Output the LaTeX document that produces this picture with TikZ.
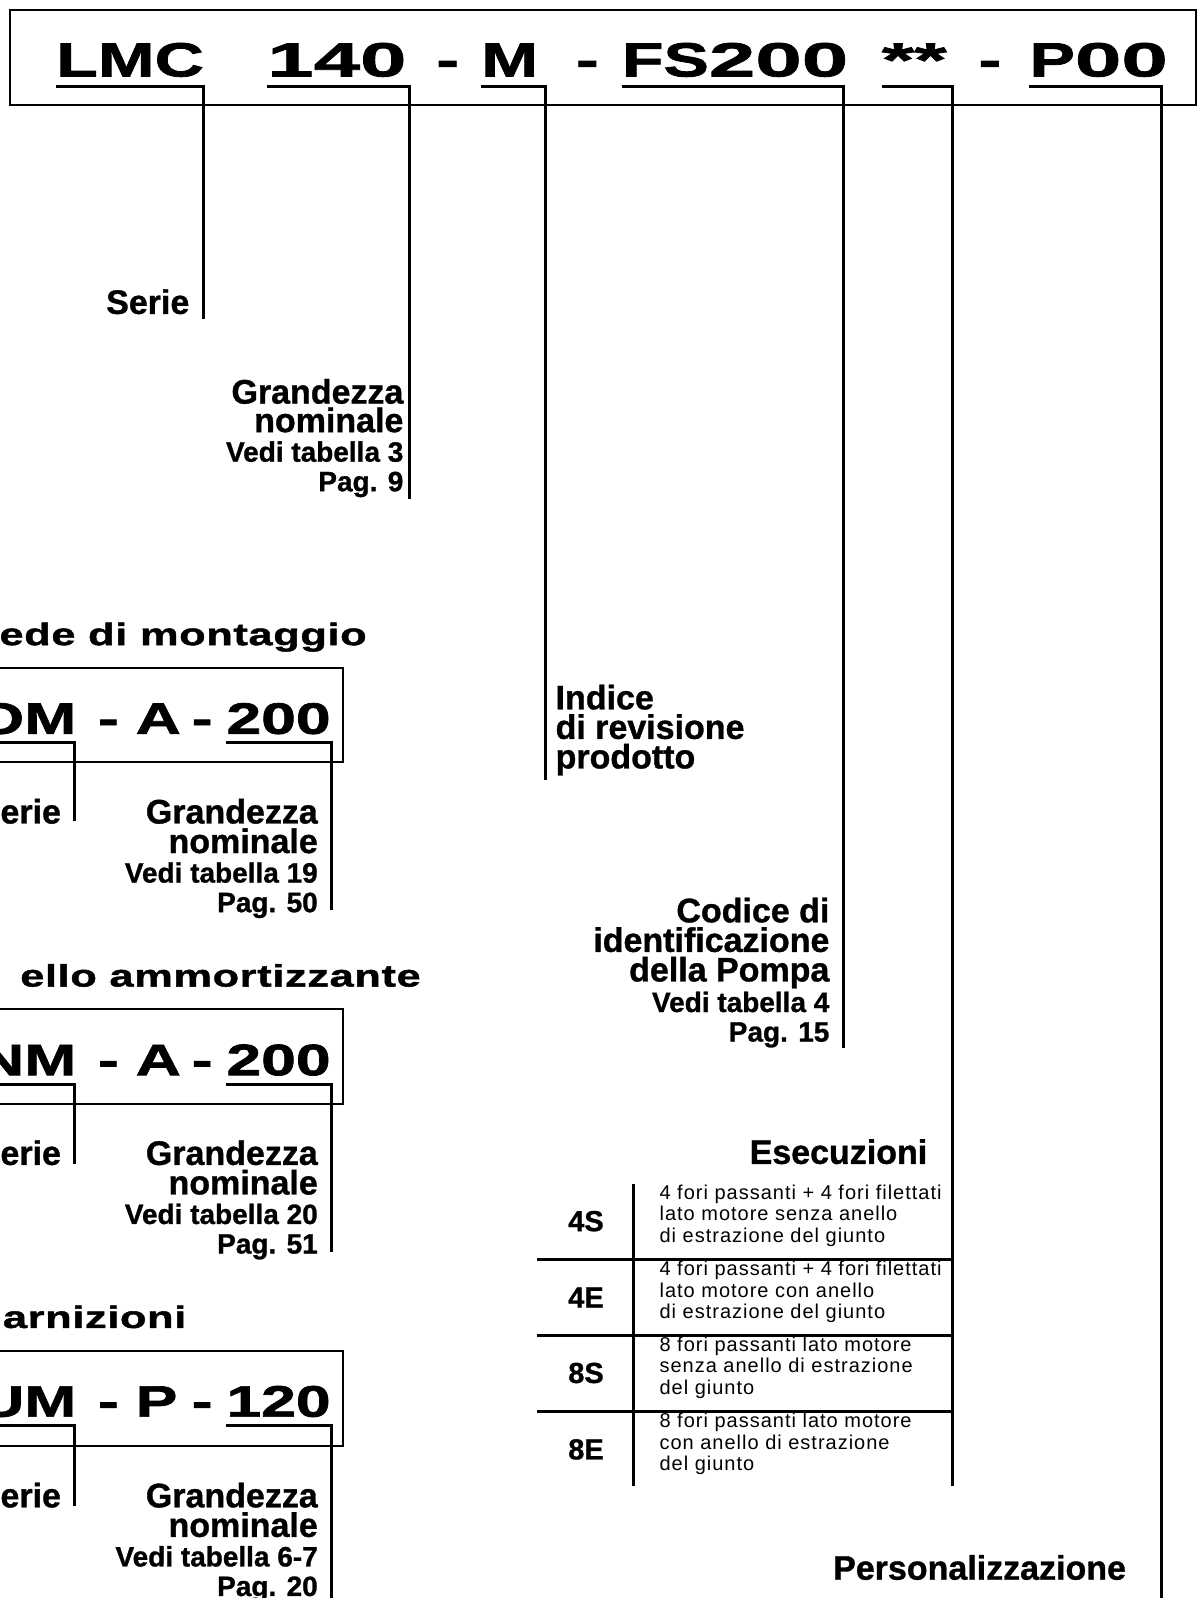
\documentclass[tikz,border=0pt]{standalone}
\usepackage{fontspec}
\setmainfont{Liberation Sans}
\newfontfamily\widef{Liberation Sans}[FakeStretch=1.42,FakeBold=1.6]
\newfontfamily\digf{Liberation Sans}[FakeStretch=1.74,FakeBold=1.6]
\newfontfamily\headf{Liberation Sans}[FakeStretch=1.4,FakeBold=1.5,LetterSpace=2]
\newfontfamily\lblf{Liberation Sans}[FakeBold=1.0]
\newfontfamily\descf{Liberation Sans}[LetterSpace=5]
\begin{document}
\begin{tikzpicture}[x=1.0195pt,y=-1.0195pt,
  code/.style={inner sep=0pt,font=\widef\bfseries\fontsize{48}{48}\selectfont},
  subcode/.style={inner sep=0pt,font=\widef\bfseries\fontsize{44}{44}\selectfont},
  lbl/.style={inner sep=0pt,font=\lblf\bfseries\fontsize{34}{34}\selectfont},
  lblr/.style={lbl,anchor=base east},
  sm/.style={inner sep=0pt,font=\lblf\bfseries\fontsize{28}{28}\selectfont,anchor=base east},
  head/.style={inner sep=0pt,font=\headf\bfseries\fontsize{31}{31}\selectfont},
  desc/.style={inner sep=0pt,font=\descf\fontsize{20}{20}\selectfont,anchor=base west},
  cd/.style={inner sep=0pt,font=\lblf\bfseries\fontsize{29}{29}\selectfont},
  ln/.style={line width=3pt,line join=miter},
  bx/.style={line width=2pt},
  tb/.style={line width=3pt}]
\path[use as bounding box] (0,0) rectangle (1177,1568);
\clip (0,0) rectangle (1177,1568);

% ---------- main code box ----------
\draw[bx] (10,10) rectangle (1174,103);
\node[code,anchor=base west] (tLMC) at (55,75) {LMC};
\node[code,anchor=base west] (t140) at (262,75) {\digf 140};
\node[code,anchor=base west] (td1) at (428,75) {-};
\node[code,anchor=base west] (tM) at (472,75) {M};
\node[code,anchor=base west] (td2) at (565,75) {-};
\node[code,anchor=base west] (tFS) at (610,75) {FS{\digf 200}};
\node[code,anchor=base west] (tST) at (865,75) {\digf **};
\node[code,anchor=base west] (td3) at (960,75) {-};
\node[code,anchor=base west] (tP) at (1010,75) {P{\digf 00}};

% ---------- labels of main code ----------
\node[lblr] (serie) at (186,308) {Serie};

\node[lblr] (gn1) at (396,396) {Grandezza};
\node[lblr] (gn2) at (396,424) {nominale};
\node[sm] (gn3) at (396,453) {Vedi tabella 3};
\node[sm] (gn4) at (396,482) {Pag. 9};

\node[lbl,anchor=base west] (ir1) at (545,696) {Indice};
\node[lbl,anchor=base west] (ir2) at (545,725) {di revisione};
\node[lbl,anchor=base west] (ir3) at (545,754) {prodotto};

\node[lblr] (cp1) at (814,905) {Codice di};
\node[lblr] (cp2) at (814,934) {identificazione};
\node[lblr] (cp3) at (814,963) {della Pompa};
\node[sm] (cp4) at (814,993) {Vedi tabella 4};
\node[sm] (cp5) at (814,1022) {Pag. 15};

\node[lblr] (esec) at (910,1142) {Esecuzioni};
\node[lblr] (pers) at (1105,1550) {Personalizzazione};

% ---------- connectors of main code ----------
\coordinate (c1a) at (55,85);   \coordinate (c1b) at (200,85);  \coordinate (c1c) at (200,313);
\coordinate (c2a) at (262,85);  \coordinate (c2b) at (402,85);  \coordinate (c2c) at (402,490);
\coordinate (c3a) at (472,85);  \coordinate (c3b) at (535,85);  \coordinate (c3c) at (535,765);
\coordinate (c4a) at (610,85);  \coordinate (c4b) at (828,85);  \coordinate (c4c) at (828,1028);
\coordinate (c5a) at (865,85);  \coordinate (c5b) at (935,85);  \coordinate (c5c) at (935,1458);
\coordinate (c6a) at (1010,85); \coordinate (c6b) at (1140,85); \coordinate (c6c) at (1140,1580);
\draw[ln] (c1a) -- (c1b) -- (c1c);
\draw[ln] (c2a) -- (c2b) -- (c2c);
\draw[ln] (c3a) -- (c3b) -- (c3c);
\draw[ln] (c4a) -- (c4b) -- (c4c);
\draw[ln] (c5a) -- (c5b) -- (c5c);
\draw[ln] (c6a) -- (c6b) -- (c6c);

% ---------- Esecuzioni table ----------
\coordinate (tv1) at (622,1162); \coordinate (tv2) at (622,1458);
\draw[tb] (tv1) -- (tv2);
\coordinate (h1a) at (527,1236); \coordinate (h1b) at (935,1236);
\coordinate (h2a) at (527,1310); \coordinate (h2b) at (935,1310);
\coordinate (h3a) at (527,1385); \coordinate (h3b) at (935,1385);
\draw[tb] (h1a) -- (h1b);
\draw[tb] (h2a) -- (h2b);
\draw[tb] (h3a) -- (h3b);

\node[cd,anchor=base] (k1) at (575,1208) {4S};
\node[cd,anchor=base] (k2) at (575,1283) {4E};
\node[cd,anchor=base] (k3) at (575,1357) {8S};
\node[cd,anchor=base] (k4) at (575,1432) {8E};

\node[desc] (d11) at (647,1177) {4 fori passanti + 4 fori filettati};
\node[desc] (d12) at (647,1198) {lato motore senza anello};
\node[desc] (d13) at (647,1219) {di estrazione del giunto};
\node[desc] (d21) at (647,1252) {4 fori passanti + 4 fori filettati};
\node[desc] (d22) at (647,1273) {lato motore con anello};
\node[desc] (d23) at (647,1294) {di estrazione del giunto};
\node[desc] (d31) at (647,1326) {8 fori passanti lato motore};
\node[desc] (d32) at (647,1347) {senza anello di estrazione};
\node[desc] (d33) at (647,1368) {del giunto};
\node[desc] (d41) at (647,1401) {8 fori passanti lato motore};
\node[desc] (d42) at (647,1422) {con anello di estrazione};
\node[desc] (d43) at (647,1443) {del giunto};

% ---------- accessory blocks ----------
% block 1
\node[head,anchor=base east] (hA) at (360,633) {ede di montaggio};
\draw[bx] (-10,655) rectangle (337,748);
\node[subcode,anchor=base east] (sA1) at (75,720) {OM};
\node[subcode,anchor=base west] (sA2) at (96,720) {-};
\node[subcode,anchor=base west] (sA3) at (133,720) {A};
\node[subcode,anchor=base west] (sA4) at (188,720) {-};
\node[subcode,anchor=base west] (sA5) at (222,720) {200};
\node[lblr] (eA) at (60,808) {erie};
\node[lblr] (gA1) at (312,808) {Grandezza};
\node[lblr] (gA2) at (312,837) {nominale};
\node[sm] (gA3) at (312,866) {Vedi tabella 19};
\node[sm] (gA4) at (312,895) {Pag. 50};
\coordinate (aa1) at (-5,729); \coordinate (aa2) at (73,729); \coordinate (aa3) at (73,806);
\coordinate (ab1) at (222,729); \coordinate (ab2) at (325,729); \coordinate (ab3) at (325,893);
\draw[ln] (aa1) -- (aa2) -- (aa3);
\draw[ln] (ab1) -- (ab2) -- (ab3);

% block 2
\node[head,anchor=base east] (hB) at (413,968) {ello ammortizzante};
\draw[bx] (-10,990) rectangle (337,1083);
\node[subcode,anchor=base east] (sB1) at (75,1055) {NM};
\node[subcode,anchor=base west] (sB2) at (96,1055) {-};
\node[subcode,anchor=base west] (sB3) at (133,1055) {A};
\node[subcode,anchor=base west] (sB4) at (188,1055) {-};
\node[subcode,anchor=base west] (sB5) at (222,1055) {200};
\node[lblr] (eB) at (60,1143) {erie};
\node[lblr] (gB1) at (312,1143) {Grandezza};
\node[lblr] (gB2) at (312,1172) {nominale};
\node[sm] (gB3) at (312,1201) {Vedi tabella 20};
\node[sm] (gB4) at (312,1230) {Pag. 51};
\coordinate (ba1) at (-5,1064); \coordinate (ba2) at (73,1064); \coordinate (ba3) at (73,1142);
\coordinate (bb1) at (222,1064); \coordinate (bb2) at (325,1064); \coordinate (bb3) at (325,1228);
\draw[ln] (ba1) -- (ba2) -- (ba3);
\draw[ln] (bb1) -- (bb2) -- (bb3);

% block 3
\node[head,anchor=base east] (hC) at (183,1303) {arnizioni};
\draw[bx] (-10,1326) rectangle (337,1419);
\node[subcode,anchor=base east] (sC1) at (75,1390) {UM};
\node[subcode,anchor=base west] (sC2) at (96,1390) {-};
\node[subcode,anchor=base west] (sC3) at (133,1390) {P};
\node[subcode,anchor=base west] (sC4) at (188,1390) {-};
\node[subcode,anchor=base west] (sC5) at (222,1390) {120};
\node[lblr] (eC) at (60,1479) {erie};
\node[lblr] (gC1) at (312,1479) {Grandezza};
\node[lblr] (gC2) at (312,1508) {nominale};
\node[sm] (gC3) at (312,1537) {Vedi tabella 6-7};
\node[sm] (gC4) at (312,1566) {Pag. 20};
\coordinate (ca1) at (-5,1399); \coordinate (ca2) at (73,1399); \coordinate (ca3) at (73,1478);
\coordinate (cb1) at (222,1399); \coordinate (cb2) at (325,1399); \coordinate (cb3) at (325,1580);
\draw[ln] (ca1) -- (ca2) -- (ca3);
\draw[ln] (cb1) -- (cb2) -- (cb3);
\end{tikzpicture}
\end{document}
